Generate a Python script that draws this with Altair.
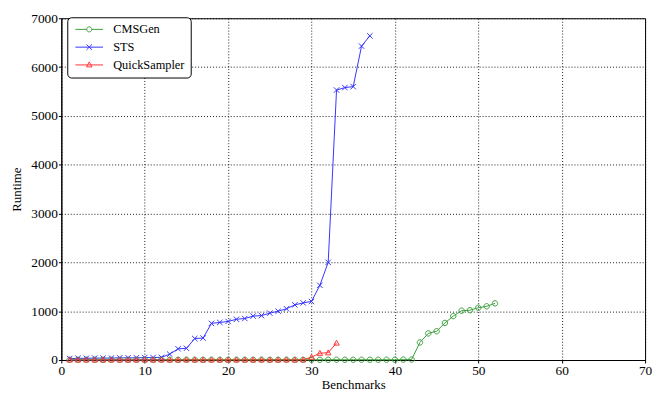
import altair as alt
import pandas as pd

series_names = ["CMSGen", "STS", "QuickSampler"]
series_colors = ["#3a9e3a", "#3434ff", "#ff3434"]

cmsgen = [5, 5, 6, 5, 5, 6, 5, 5, 6, 5, 5, 6, 5, 5, 6, 5, 5, 6, 5, 5, 6,
          5, 5, 6, 5, 5, 6, 5, 5, 6, 5, 5, 6, 5, 5, 6, 5, 5, 6, 5, 8, 10,
          360, 545, 590, 760, 900, 1010, 1020, 1070, 1100, 1160]
sts = [30, 35, 35, 40, 40, 40, 45, 45, 45, 50, 50, 55,
       120, 230, 240, 440, 450, 750, 770, 790, 835, 850, 900, 910,
       960, 1000, 1050, 1130, 1170, 1200, 1530, 2000, 5530, 5580,
       5600, 6430, 6640]
quicksampler = [4, 4, 5, 4, 4, 5, 4, 4, 5, 4, 4, 5, 4, 4, 5, 4, 4, 5, 4, 4,
                5, 4, 4, 5, 4, 4, 5, 4, 6, 60, 140, 150, 350]

x_ticks = [0, 10, 20, 30, 40, 50, 60, 70]
y_ticks = [0, 1000, 2000, 3000, 4000, 5000, 6000, 7000]

marker_paths = [
    "M1,0A1,1,0,1,1,-1,0A1,1,0,1,1,1,0",
    "M-1,-1L1,1M-1,1L1,-1",
    "M0,-1L1,0.8L-1,0.8Z",
]
legend_paths = [
    "M-3,0H-0.55M0.55,0H3M0.55,0A0.55,0.55,0,1,1,-0.55,0A0.55,0.55,0,1,1,0.55,0",
    "M-3,0H3M-0.6,-0.6L0.6,0.6M-0.6,0.6L0.6,-0.6",
    "M-3,0H3M0,-0.66L0.6,0.42L-0.6,0.42Z",
]

rows = []
for name, vals in zip(series_names, [cmsgen, sts, quicksampler]):
    for i, v in enumerate(vals, start=1):
        rows.append({"series": name, "bench": i, "runtime": v})
df = pd.DataFrame(rows)

FONT = "Liberation Serif"

x_enc = alt.X("bench:Q", scale=alt.Scale(domain=[0, 70], nice=False, zero=False),
              axis=alt.Axis(values=x_ticks, title="Benchmarks", format="d",
                            labelFont=FONT, titleFont=FONT, labelFlush=False))
y_enc = alt.Y("runtime:Q", scale=alt.Scale(domain=[0, 7000], nice=False),
              axis=alt.Axis(values=y_ticks, title="Runtime", format="d",
                            labelFont=FONT, titleFont=FONT, labelFlush=False))

def color_enc(legend):
    return alt.Color("series:N", scale=alt.Scale(domain=series_names, range=series_colors),
                     legend=legend)

lines = alt.Chart(df).mark_line(strokeWidth=1).encode(
    x=x_enc, y=y_enc, color=color_enc(None), order=alt.Order("bench:Q"))

points = alt.Chart(df).mark_point(filled=False, size=30, strokeWidth=1, opacity=1).encode(
    x=x_enc, y=y_enc, color=color_enc(None),
    shape=alt.Shape("series:N", scale=alt.Scale(domain=series_names, range=marker_paths),
                    legend=None))

legend_layer = alt.Chart(df).transform_filter("false").mark_point(
    filled=False, strokeWidth=1, opacity=1).encode(
    x=x_enc, y=y_enc,
    color=color_enc(alt.Legend(title=None)),
    shape=alt.Shape("series:N", scale=alt.Scale(domain=series_names, range=legend_paths),
                    legend=alt.Legend(title=None)))

chart = alt.layer(lines, points, legend_layer).resolve_scale(
    color="independent", shape="independent"
).properties(
    width=591, height=346,
    autosize=alt.AutoSizeParams(type="none"),
    padding={"left": 54, "top": 8, "right": 7, "bottom": 31},
).configure_view(
    stroke="black", strokeWidth=1
).configure_axis(
    labelFont=FONT, titleFont=FONT, labelFontSize=13.5, titleFontSize=13,
    labelColor="black", titleColor="black", titleFontWeight="normal",
    domainColor="black", tickColor="black", tickSize=3, labelPadding=1,
    grid=True, gridColor="black", gridDash=[1, 2], gridOpacity=0.9, gridWidth=1,
).configure_axisX(
    titlePadding=1,
).configure_axisY(
    titlePadding=7,
).configure_legend(
    orient="none", legendX=6, legendY=-1,
    labelFont=FONT, labelFontSize=12.5, labelColor="black",
    symbolSize=87, symbolStrokeWidth=1, symbolOffset=10,
    fillColor="white", strokeColor="black", cornerRadius=4,
    padding=6, labelOffset=18, rowPadding=5,
)

chart.save("out.html", embed_options={"renderer": "svg", "actions": False})
